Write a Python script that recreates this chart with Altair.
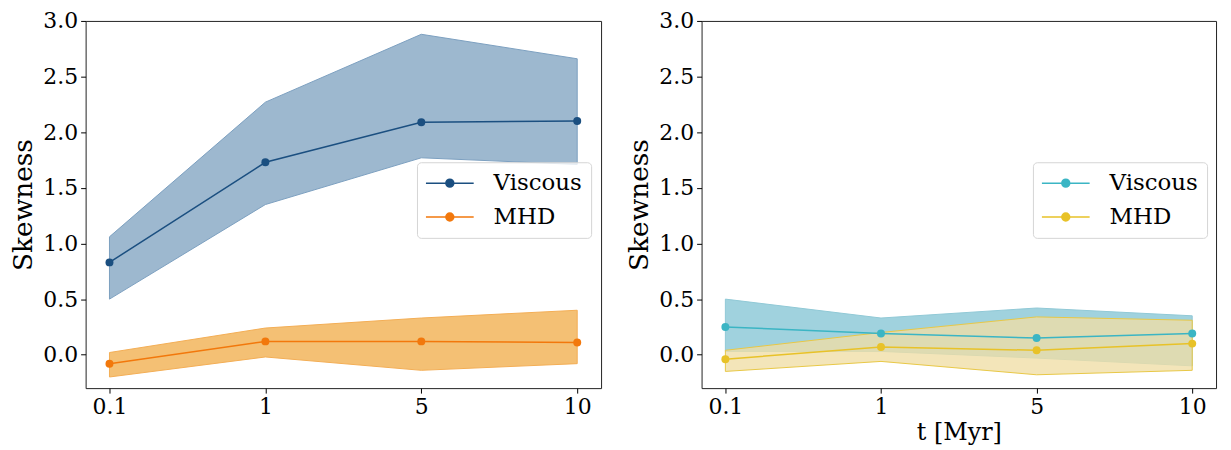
import altair as alt
import pandas as pd

times = ["0.1", "1", "5", "10"]
series_names = ["Viscous", "MHD"]

# Left panel
left_visc_mean = [0.83, 1.73, 2.09, 2.10]
left_visc_lo = [0.50, 1.35, 1.77, 1.71]
left_visc_hi = [1.06, 2.27, 2.88, 2.66]
left_mhd_mean = [-0.08, 0.12, 0.12, 0.11]
left_mhd_lo = [-0.20, -0.02, -0.14, -0.08]
left_mhd_hi = [0.02, 0.24, 0.33, 0.40]

# Right panel
right_visc_mean = [0.25, 0.19, 0.15, 0.19]
right_visc_lo = [0.03, 0.03, -0.03, -0.10]
right_visc_hi = [0.50, 0.33, 0.42, 0.35]
right_mhd_mean = [-0.04, 0.07, 0.04, 0.10]
right_mhd_lo = [-0.15, -0.06, -0.18, -0.14]
right_mhd_hi = [0.04, 0.20, 0.34, 0.31]

y_ticks = [0.0, 0.5, 1.0, 1.5, 2.0, 2.5, 3.0]

FONT = "DejaVu Serif"
# line with a dot in the middle (legend symbol); size 484 -> unit = 11px
LEGEND_PATH = ("M-2.18,0L2.18,0M-0.36,0A0.36,0.36,0,1,1,0.36,0"
               "A0.36,0.36,0,1,1,-0.36,0Z")


def make_df(vm, vlo, vhi, mm, mlo, mhi):
    rows = []
    for name, m, lo, hi in [("Viscous", vm, vlo, vhi), ("MHD", mm, mlo, mhi)]:
        for t, a, b, c in zip(times, m, lo, hi):
            rows.append({"t": t, "series": name, "mean": a, "lo": b, "hi": c})
    return pd.DataFrame(rows)


def panel(df, line_colors, fill_colors, edge_colors, fill_opac, xtitle, width):
    x = alt.X("t:N", sort=times, scale=alt.Scale(type="point", padding=0.153),
              axis=alt.Axis(labelAngle=0), title=xtitle)
    yscale = alt.Scale(domain=[-0.3, 3.0], nice=False, zero=False)
    yaxis = alt.Axis(values=y_ticks, format=".1f")

    leg = dict(title=None, orient="none", legendX=333, legendY=142,
               symbolType=LEGEND_PATH, symbolSize=484, symbolStrokeWidth=1.5,
               symbolOffset=12, labelOffset=32,
               labelFont=FONT, labelFontSize=23, labelColor="black",
               padding=9, strokeColor="#d5d5d5", cornerRadius=4,
               fillColor="rgba(255,255,255,0.8)",
               rowPadding=10, symbolOpacity=1)

    layers = []
    for name, fc, ec, op in zip(series_names, fill_colors, edge_colors, fill_opac):
        layers.append(
            alt.Chart(df).transform_filter(alt.datum.series == name)
            .mark_area(color=fc, fillOpacity=op, stroke=ec, strokeWidth=1)
            .encode(x=x, y=alt.Y("lo:Q", scale=yscale, axis=yaxis, title="Skewness"),
                    y2="hi:Q")
        )
    line = alt.Chart(df).mark_line(strokeWidth=1.5).encode(
        x=x,
        y=alt.Y("mean:Q", scale=yscale, axis=yaxis, title="Skewness"),
        color=alt.Color("series:N", scale=alt.Scale(domain=series_names, range=line_colors),
                        legend=alt.Legend(**leg)),
    )
    pts = alt.Chart(df).mark_point(filled=True, size=64, opacity=1, strokeWidth=0).encode(
        x=x,
        y=alt.Y("mean:Q", scale=yscale, axis=yaxis, title="Skewness"),
        fill=alt.Fill("series:N", scale=alt.Scale(domain=series_names, range=line_colors),
                      legend=alt.Legend(**leg)),
    )
    return alt.layer(*layers, line, pts).properties(width=width, height=369)


left_df = make_df(left_visc_mean, left_visc_lo, left_visc_hi,
                  left_mhd_mean, left_mhd_lo, left_mhd_hi)
right_df = make_df(right_visc_mean, right_visc_lo, right_visc_hi,
                   right_mhd_mean, right_mhd_lo, right_mhd_hi)

left = panel(left_df, ["#1b4f80", "#f2780c"], ["#9db8cf", "#f4c074"],
             ["#7c9fc0", "#f3ad55"], [1.0, 1.0], None, 518)
right = panel(right_df, ["#3bb5c4", "#e8c228"], ["#a0d2de", "#f0dea5"],
              ["#90c9d6", "#e8c846"], [1.0, 0.78], "t [Myr]", 517)

chart = (
    alt.hconcat(left, right, spacing=101, bounds="flush")
    .resolve_scale(color="independent", fill="independent")
    .resolve_legend(color="independent", fill="independent")
    .properties(
        autosize=alt.AutoSizeParams(type="none"),
        padding={"left": 78, "top": 11, "right": 1143, "bottom": 431},
    )
    .configure_view(stroke="#222222", strokeWidth=1)
    .configure_axis(
        grid=False, domain=False,
        labelFont=FONT, labelFontSize=22, labelColor="black",
        tickColor="black", tickSize=5, tickWidth=1, labelPadding=3,
        titleFont=FONT, titleFontWeight="normal", titleColor="black",
    )
    .configure_axisY(titleFontSize=26.5, titlePadding=5)
    .configure_axisX(titleFontSize=24, titlePadding=4)
)

chart.save("out.html", embed_options={"renderer": "svg", "actions": False})
